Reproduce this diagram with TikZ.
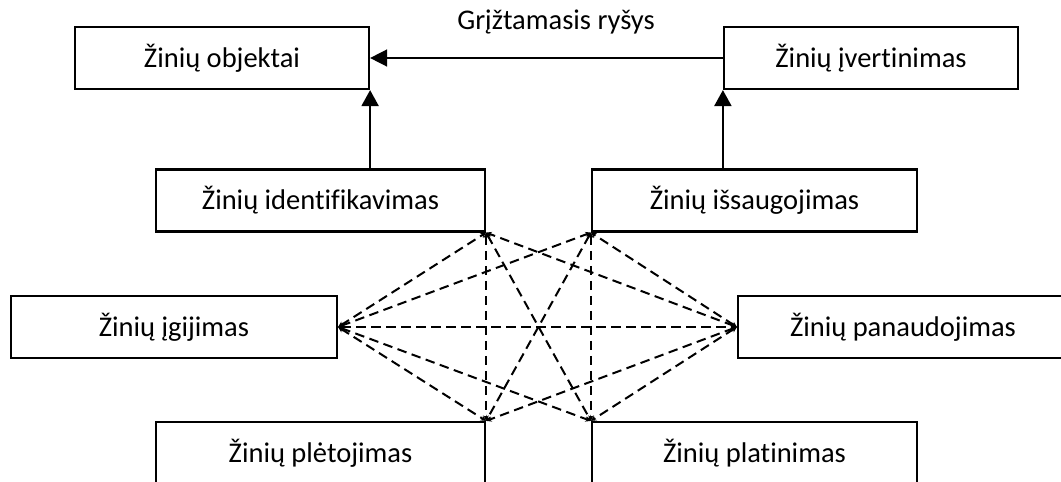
\documentclass[tikz,border=0pt]{standalone}
\usepackage{fontspec}
\setmainfont{Carlito}[Ligatures=NoCommon]
\usetikzlibrary{arrows.meta}
\begin{document}
\begin{tikzpicture}[x=1pt,y=-1pt,
  box/.style={draw, line width=2.2pt, inner sep=0pt, minimum height=62pt,
    font=\fontsize{28.5}{34}\selectfont},
  solidarrow/.style={line width=2.2pt, -{Triangle[length=16pt,width=17pt]}},
  feedback/.style={line width=1.5pt, -{Triangle[length=17pt,width=17pt]}},
  link/.style={line width=2pt, dash pattern=on 9.5pt off 5.5pt,
    {Stealth[length=5.5pt,width=5.5pt]}-{Stealth[length=5.5pt,width=5.5pt]}},
  lbl/.style={font=\fontsize{28.5}{34}\selectfont, inner sep=0pt}]
\useasboundingbox (0,0) rectangle (1061,482);
\clip (0,0) rectangle (1061,482);
% upper row
\node[box, minimum width=294pt] (obj) at (222,58) {Žinių objektai};
\node[box, minimum width=294pt] (ivert) at (871,58) {Žinių įvertinimas};
% second row
\node[box, minimum width=329pt] (ident) at (320.5,200.5) {Žinių identifikavimas};
\node[box, minimum width=325pt] (issaug) at (754.5,200.5) {Žinių išsaugojimas};
% middle row
\node[box, minimum width=326pt] (igij) at (174,327) {Žinių įgijimas};
\node[box, minimum width=330pt] (panaud) at (903,327) {Žinių panaudojimas};
% bottom row
\node[box, minimum width=329pt] (pletoj) at (320.5,453) {Žinių plėtojimas};
\node[box, minimum width=325pt] (platin) at (754.5,453) {Žinių platinimas};
% feedback loop
\draw[feedback] (ivert.west) -- (obj.east);
\node[lbl] (fb) at (556,22) {Grįžtamasis ryšys};
\draw[solidarrow] (ident.north -| obj.south east) -- (obj.south east);
\draw[solidarrow] (issaug.north -| ivert.south west) -- (ivert.south west);
% dashed links between processes
\coordinate (A) at (ident.south east);
\coordinate (B) at (issaug.south west);
\coordinate (C) at (igij.east);
\coordinate (D) at (panaud.west);
\coordinate (E) at (pletoj.north east);
\coordinate (F) at (platin.north west);
\foreach \p/\q in {C/A, C/B, C/D, C/E, C/F, D/A, D/B, D/E, D/F, A/E, B/F, A/F, B/E}
  \draw[link] (\p) -- (\q);
\end{tikzpicture}
\end{document}
